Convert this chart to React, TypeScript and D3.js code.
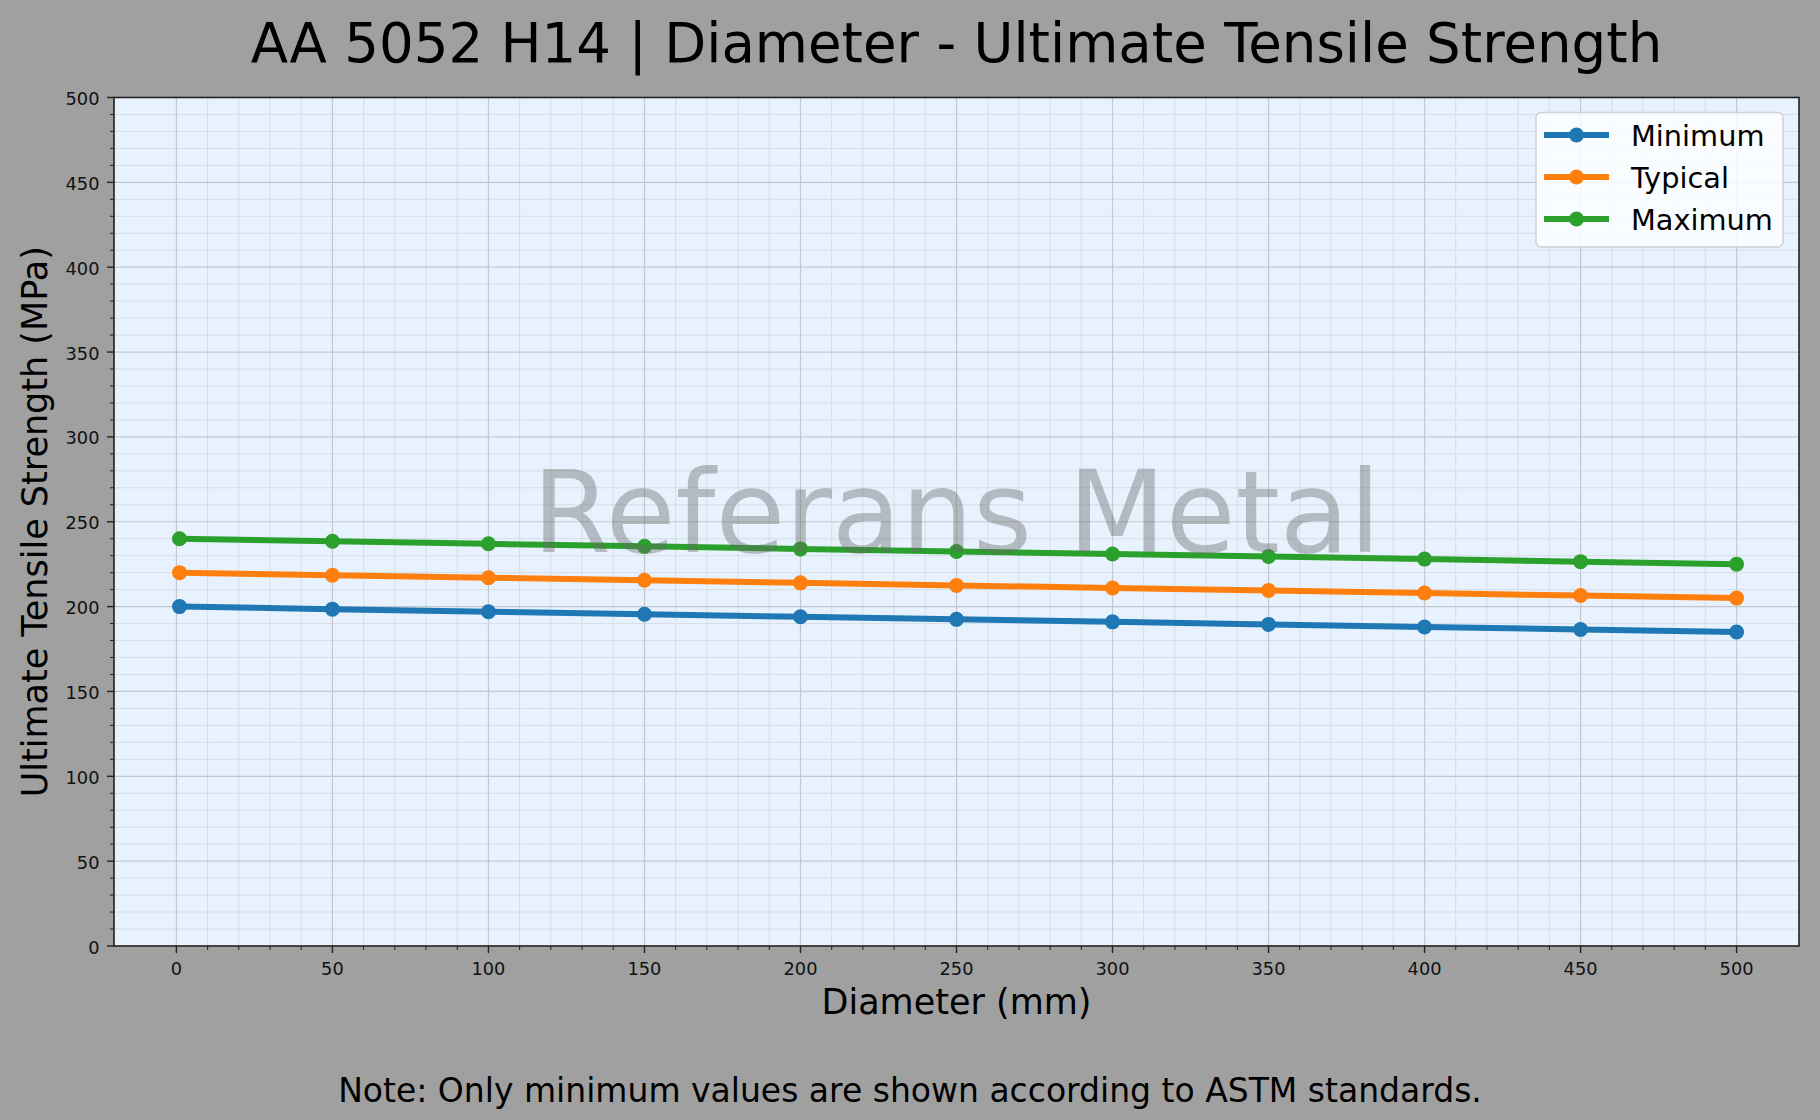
import React from "react";
import * as d3 from "d3";

const diameters = [1, 50, 100, 150, 200, 250, 300, 350, 400, 450, 500];
const minimumValues = [200, 198.5, 197, 195.5, 194, 192.5, 191, 189.5, 188, 186.5, 185];
const typicalValues = [220, 218.5, 217, 215.5, 214, 212.5, 211, 209.5, 208, 206.5, 205];
const maximumValues = [240, 238.5, 237, 235.5, 234, 232.5, 231, 229.5, 228, 226.5, 225];
const seriesNames = ["Minimum", "Typical", "Maximum"];
const seriesColors = ["#1f77b4", "#ff7f0e", "#2ca02c"];
const xTicks = [0, 50, 100, 150, 200, 250, 300, 350, 400, 450, 500];
const yTicks = [0, 50, 100, 150, 200, 250, 300, 350, 400, 450, 500];
const xMinorTicks = d3.range(10, 500, 10).filter((v) => v % 50 !== 0);
const yMinorTicks = d3.range(10, 500, 10).filter((v) => v % 50 !== 0);

const W = 1820;
const H = 1120;
const L = 114, R = 1799, T = 97.5, B = 946;
const FONT = "'DejaVu Sans', sans-serif";

export default function App() {
  const x = d3.scaleLinear().domain([-20, 520]).range([L, R]);
  const y = d3.scaleLinear().domain([0, 500]).range([B, T]);
  const allSeries = [minimumValues, typicalValues, maximumValues];
  const line = d3
    .line<number>()
    .x((_, i) => x(diameters[i]))
    .y((d) => y(d));

  const cx = (L + R) / 2;
  const cy = (T + B) / 2;

  return (
    <div style={{ position: "absolute", left: 0, top: 0, width: W, height: H }}>
      <svg width={W} height={H} style={{ display: "block" }} fontFamily={FONT}>
        <rect x={0} y={0} width={W} height={H} fill="#a0a0a0" />
        <rect x={L} y={T} width={R - L} height={B - T} fill="#e7f2fe" />
        {/* minor grid */}
        {xMinorTicks.map((v) => (
          <line key={"xm" + v} x1={x(v)} x2={x(v)} y1={T} y2={B} stroke="#d5dde6" strokeWidth={1} />
        ))}
        {yMinorTicks.map((v) => (
          <line key={"ym" + v} x1={L} x2={R} y1={y(v)} y2={y(v)} stroke="#d5dde6" strokeWidth={1} />
        ))}
        {/* major grid */}
        {xTicks.map((v) => (
          <line key={"xg" + v} x1={x(v)} x2={x(v)} y1={T} y2={B} stroke="#c4c8cc" strokeWidth={1.2} />
        ))}
        {yTicks.map((v) => (
          <line key={"yg" + v} x1={L} x2={R} y1={y(v)} y2={y(v)} stroke="#c4c8cc" strokeWidth={1.2} />
        ))}
        {/* series */}
        {allSeries.map((s, si) => (
          <g key={"s" + si}>
            <path d={line(s) || ""} fill="none" stroke={seriesColors[si]} strokeWidth={6} strokeLinejoin="round" />
            {s.map((v, i) => (
              <circle key={i} cx={x(diameters[i])} cy={y(v)} r={7.5} fill={seriesColors[si]} />
            ))}
          </g>
        ))}
        {/* watermark */}
        <text
          x={cx}
          y={552}
          textAnchor="middle"
          fontSize={113.3}
          fill="#666666"
          fillOpacity={0.4}
        >
          Referans Metal
        </text>
        {/* spines */}
        <rect x={L} y={T} width={R - L} height={B - T} fill="none" stroke="#222" strokeWidth={1.6} />
        {/* x ticks */}
        {xTicks.map((v) => (
          <g key={"xt" + v}>
            <line x1={x(v)} x2={x(v)} y1={B} y2={B + 7} stroke="#222" strokeWidth={1.4} />
            <text x={x(v)} y={975} textAnchor="middle" fontSize={17.8} fill="#111">
              {v}
            </text>
          </g>
        ))}
        {xMinorTicks.map((v) => (
          <line key={"xmt" + v} x1={x(v)} x2={x(v)} y1={B} y2={B + 4} stroke="#222" strokeWidth={1} />
        ))}
        {/* y ticks */}
        {yTicks.map((v) => (
          <g key={"yt" + v}>
            <line x1={L - 7} x2={L} y1={y(v)} y2={y(v)} stroke="#222" strokeWidth={1.4} />
            <text x={99.5} y={y(v) + 7.5} textAnchor="end" fontSize={17.8} fill="#111">
              {v}
            </text>
          </g>
        ))}
        {yMinorTicks.map((v) => (
          <line key={"ymt" + v} x1={L - 4} x2={L} y1={y(v)} y2={y(v)} stroke="#222" strokeWidth={1} />
        ))}
        {/* title & labels */}
        <text x={cx} y={62} textAnchor="middle" fontSize={54.6} fill="#000">
          AA 5052 H14 | Diameter - Ultimate Tensile Strength
        </text>
        <text x={cx} y={1014} textAnchor="middle" fontSize={35} fill="#000">
          Diameter (mm)
        </text>
        <text
          transform={`translate(46.5,${cy}) rotate(-90)`}
          textAnchor="middle"
          fontSize={35}
          fill="#000"
        >
          Ultimate Tensile Strength (MPa)
        </text>
        <text x={W / 2} y={1102} textAnchor="middle" fontSize={33} fill="#000">
          Note: Only minimum values are shown according to ASTM standards.
        </text>
        {/* legend */}
        <rect x={1536} y={112.5} width={247} height={134.5} rx={5} fill="#ffffff" fillOpacity={0.8} stroke="#d0d0d0" strokeWidth={1.5} />
        {seriesNames.map((n, i) => {
          const ly = 135 + i * 42;
          return (
            <g key={"lg" + n}>
              <line x1={1544} x2={1609} y1={ly} y2={ly} stroke={seriesColors[i]} strokeWidth={6} />
              <circle cx={1576.5} cy={ly} r={7.5} fill={seriesColors[i]} />
              <text x={1631} y={ly + 10.5} fontSize={28.8} fill="#000">
                {n}
              </text>
            </g>
          );
        })}
      </svg>
    </div>
  );
}
